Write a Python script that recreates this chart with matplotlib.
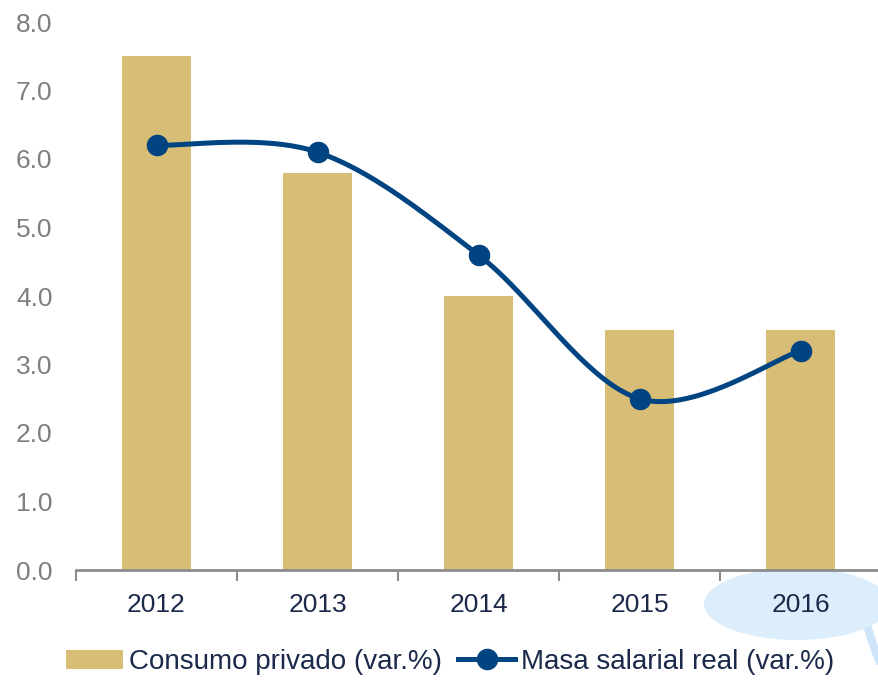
import numpy as np
import matplotlib
matplotlib.use("Agg")
import matplotlib.pyplot as plt
from matplotlib.patches import Ellipse
from matplotlib.lines import Line2D
from matplotlib.patches import Patch

years = ["2012", "2013", "2014", "2015", "2016"]
consumo = [7.5, 5.8, 4.0, 3.5, 3.5]
masa = [6.2, 6.1, 4.6, 2.5, 3.2]
yticks = [0, 1, 2, 3, 4, 5, 6, 7, 8]

BAR = "#D8BD76"
LINE = "#004481"
NAVY = "#1B2A4A"
GREY = "#7F7F7F"

plt.rcParams["font.family"] = ["Liberation Sans", "DejaVu Sans"]

fig = plt.figure(figsize=(8.79, 6.81), dpi=100)

# highlight ellipse around 2016 label (behind the axes)
ell = Ellipse((797/879, 1 - 604/681), 186/879, 72/681, transform=fig.transFigure,
              facecolor="#DCEEFB", edgecolor="none", zorder=0)
fig.patches.append(ell)
t = np.linspace(0, 1, 30)
fig.add_artist(Line2D((865 + 14*t**1.4)/879, 1 - (612 + 48*t)/681, color="#CFE6FA",
                      lw=6, transform=fig.transFigure, zorder=0))

ax = fig.add_axes([76/879, 111/681, (881-76)/879, 548/681])
ax.set_zorder(2)
ax.patch.set_visible(False)

x = np.arange(len(years))
ax.bar(x, consumo, width=0.43, color=BAR, zorder=2)

# smooth curve (Catmull-Rom style, like Excel smoothed line)
def smooth(xs, ys, n=40):
    xs = np.asarray(xs, float); ys = np.asarray(ys, float)
    px = np.concatenate([[xs[0]], xs, [xs[-1]]])
    py = np.concatenate([[ys[0]], ys, [ys[-1]]])
    outx, outy = [], []
    for i in range(1, len(px) - 2):
        p0 = np.array([px[i-1], py[i-1]]); p1 = np.array([px[i], py[i]])
        p2 = np.array([px[i+1], py[i+1]]); p3 = np.array([px[i+2], py[i+2]])
        c1 = p1 + (p2 - p0) / 6.0
        c2 = p2 - (p3 - p1) / 6.0
        tt = np.linspace(0, 1, n)[:, None]
        pts = (1-tt)**3*p1 + 3*(1-tt)**2*tt*c1 + 3*(1-tt)*tt**2*c2 + tt**3*p2
        outx.extend(pts[:, 0]); outy.extend(pts[:, 1])
    return outx, outy

sx, sy = smooth(x, masa)
ax.plot(sx, sy, color=LINE, lw=3.6, zorder=3, solid_capstyle="round")
ax.plot(x, masa, "o", color=LINE, ms=14.5, zorder=4)

ax.set_xlim(-0.5, 4.5)
ax.set_ylim(0, 8)
ax.set_yticks(yticks)
ax.set_yticklabels([f"{v:.1f}" for v in yticks])
ax.tick_params(axis="y", length=0, pad=17, labelsize=19, labelcolor=GREY)
ax.set_xticks(x)
ax.set_xticklabels(years)
ax.tick_params(axis="x", which="major", length=0, pad=16.5, labelsize=19, labelcolor=NAVY)
ax.set_xticks(np.arange(-0.5, 5.0, 1.0), minor=True)
ax.tick_params(axis="x", which="minor", length=8, width=1.5, color="#8C8C8C", direction="out")
for s in ["top", "right", "left"]:
    ax.spines[s].set_visible(False)
ax.spines["bottom"].set_color("#8C8C8C")
ax.spines["bottom"].set_linewidth(2)
ax.spines["bottom"].set_zorder(5)

handles = [Patch(facecolor=BAR, edgecolor="none"),
           Line2D([0], [0], color=LINE, lw=3.6, marker="o", ms=14.5)]
leg = fig.legend(handles, ["Consumo privado (var.%)", "Masa salarial real (var.%)"],
                 loc="center", bbox_to_anchor=(450/879, 1 - 662/681), ncol=2, frameon=False,
                 fontsize=20, handlelength=2.05, handletextpad=0.2, columnspacing=0.6,
                 borderaxespad=0)
for txt in leg.get_texts():
    txt.set_color(NAVY)

fig.savefig("out.png", dpi=100)
